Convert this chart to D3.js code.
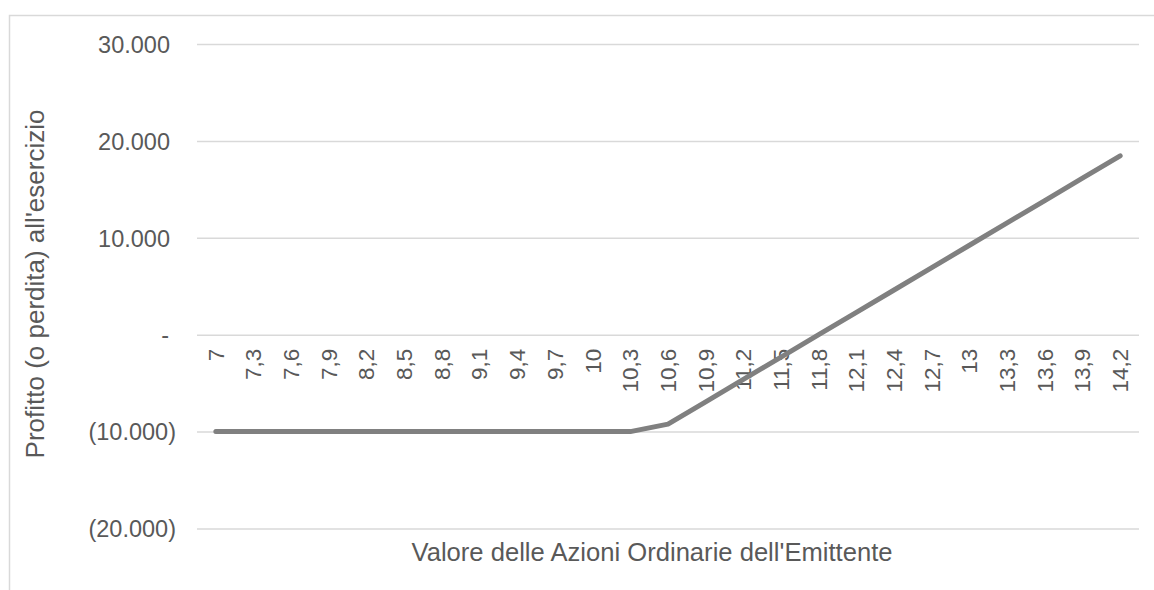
<!DOCTYPE html>
<html>
<head>
<meta charset="utf-8">
<script src="https://cdn.jsdelivr.net/npm/d3@7"></script>
<style>
  body { margin: 0; background: #fff; }
  svg text { font-family: "Liberation Sans", Arial, sans-serif; fill: #595959; }
</style>
</head>
<body>
<div id="chart"></div>
<script>
// prezzo azione (categorie asse x)
var prezzi = ["7","7,3","7,6","7,9","8,2","8,5","8,8","9,1","9,4","9,7","10","10,3",
              "10,6","10,9","11,2","11,5","11,8","12,1","12,4","12,7","13","13,3","13,6","13,9","14,2"];
// profitto o perdita all'esercizio
var profitto = [-10000,-10000,-10000,-10000,-10000,-10000,-10000,-10000,-10000,-10000,-10000,-10000,
                -9231,-6923,-4615,-2308,0,2308,4615,6923,9231,11538,13846,16154,18462];
var yTicks = [-20000,-10000,0,10000,20000,30000];

var width = 1154, height = 590;

var svg = d3.select('#chart').append('svg')
    .attr('width', width)
    .attr('height', height);

// chart border
svg.append('rect')
    .attr('x', 9.5).attr('y', 15.5)
    .attr('width', 1160).attr('height', 600)
    .attr('fill', 'none')
    .attr('stroke', '#d9d9d9')
    .attr('stroke-width', 1.5);

var x = d3.scaleBand()
    .domain(prezzi)
    .range([197, 1139]);

var y = d3.scaleLinear()
    .domain([-20000, 30000])
    .range([528.5, 44]);

function fmt(v) {
  if (v === 0) return '-';
  var s = d3.format(',')(Math.abs(v)).replace(/,/g, '.');
  return v < 0 ? '(' + s + ')' : s;
}

// gridlines + y labels
var yAxis = d3.axisLeft(y)
    .tickValues(yTicks)
    .tickSize(-(1139 - 197))
    .tickPadding(0)
    .tickFormat(fmt);

var gy = svg.append('g')
    .attr('transform', 'translate(197,0)')
    .call(yAxis);
gy.select('.domain').remove();
gy.selectAll('.tick line').attr('stroke', '#d9d9d9').attr('stroke-width', 1.5);
gy.selectAll('.tick text')
    .attr('font-size', 23.5)
    .attr('x', function(d) { return d < 0 ? -21 : (d === 0 ? -28 : -27); })
    .attr('dy', '0.35em');

// x category labels, rotated, hanging below the zero line
var gx = svg.append('g')
    .attr('transform', 'translate(0,' + y(0) + ')')
    .call(d3.axisBottom(x).tickSize(0).tickPadding(0));
gx.select('.domain').remove();
gx.selectAll('.tick text')
    .attr('font-size', 22.5)
    .attr('transform', 'rotate(-90)')
    .attr('text-anchor', 'end')
    .attr('x', -14)
    .attr('y', 0)
    .attr('dy', '0.35em');

// line
var line = d3.line()
    .x(function(d, i) { return x(prezzi[i]) + x.bandwidth() / 2; })
    .y(function(d) { return y(d); });

svg.append('path')
    .datum(profitto)
    .attr('d', line)
    .attr('fill', 'none')
    .attr('stroke', '#808080')
    .attr('stroke-width', 5)
    .attr('stroke-linecap', 'round')
    .attr('stroke-linejoin', 'round');

// axis titles
svg.append('text')
    .attr('x', 652).attr('y', 561)
    .attr('text-anchor', 'middle')
    .attr('font-size', 25.6)
    .text("Valore delle Azioni Ordinarie dell'Emittente");

svg.append('text')
    .attr('transform', 'translate(44,284) rotate(-90)')
    .attr('text-anchor', 'middle')
    .attr('font-size', 26)
    .text("Profitto (o perdita) all'esercizio");
</script>
</body>
</html>
